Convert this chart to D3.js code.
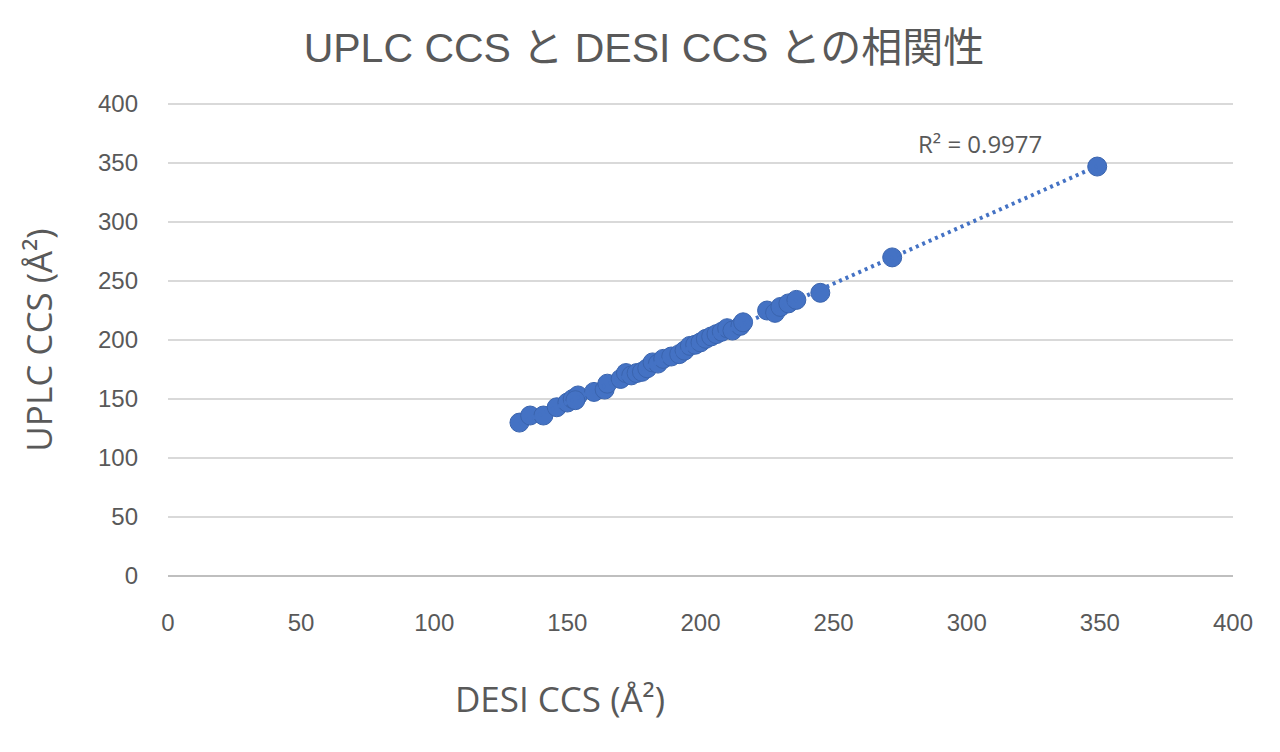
<!DOCTYPE html>
<html><head><meta charset="utf-8">
<script src="https://cdn.jsdelivr.net/npm/d3@7"></script>
<style>body{margin:0;background:#fff}</style></head>
<body><svg id="c" width="1280" height="752"></svg>
<script>
const desiCCS = [132,136,141,146,150,152,154,153,160,164,165,170,172,174,176,178,180,182,184,186,189,192,194,196,198,200,202,204,206,208,210,212,215,216,225,228,230,233,236,245,272,349];
const uplcCCS = [130,136,136,143,147,150,153,149,156,158,163,167,172,170,172,173,176,181,180,184,186,188,191,195,196,198,201,203,205,207,210,208,212,215,225,223,228,231,234,240,270,347];
const xTicks = [0,50,100,150,200,250,300,350,400];
const yTicks = [0,50,100,150,200,250,300,350,400];
const r2Label = "R² = 0.9977";

const svg = d3.select("#c");
const L=168,R=1233,T=104,B=576;
const x = d3.scaleLinear().domain([0,400]).range([L,R]);
const y = d3.scaleLinear().domain([0,400]).range([B,T]);
const gray="#595959", font="'Liberation Sans', Arial, sans-serif";

svg.append("text").attr("x",644).attr("y",62).attr("text-anchor","middle")
  .attr("font-family","'Liberation Sans','Noto Sans CJK JP',sans-serif").attr("font-size",41).attr("fill",gray)
  .text("UPLC CCS と DESI CCS との相関性");

svg.append("g").selectAll("line").data(yTicks.filter(d=>d>0)).join("line")
  .attr("x1",L).attr("x2",R).attr("y1",d=>y(d)).attr("y2",d=>y(d)).attr("stroke","#d9d9d9").attr("stroke-width",2);
svg.append("line").attr("x1",L).attr("x2",R).attr("y1",B).attr("y2",B).attr("stroke","#bfbfbf").attr("stroke-width",2);

svg.append("g").selectAll("text").data(yTicks).join("text")
  .attr("x",138).attr("y",d=>y(d)+8).attr("text-anchor","end").attr("font-family",font).attr("font-size",24).attr("fill",gray).text(d=>d);
svg.append("g").selectAll("text").data(xTicks).join("text")
  .attr("x",d=>x(d)).attr("y",631).attr("text-anchor","middle").attr("font-family",font).attr("font-size",24).attr("fill",gray).text(d=>d);

svg.append("text").attr("x",560).attr("y",712).attr("text-anchor","middle").attr("font-family","'Open Sans',sans-serif")
  .attr("font-size",35).attr("fill",gray).text("DESI CCS (Å²)");
svg.append("text").attr("transform","translate(52,340) rotate(-90)").attr("text-anchor","middle").attr("font-family","'Open Sans',sans-serif")
  .attr("font-size",35).attr("fill",gray).text("UPLC CCS (Å²)");

svg.append("g").selectAll("circle").data(desiCCS).join("circle")
  .attr("cx",d=>x(d)).attr("cy",(d,i)=>y(uplcCCS[i])).attr("r",9.5).attr("fill","#4472c4").attr("stroke","#3a64ae").attr("stroke-width",1);

const mx=d3.mean(desiCCS), my=d3.mean(uplcCCS);
const slope=d3.sum(desiCCS.map((d,i)=>(d-mx)*(uplcCCS[i]-my)))/d3.sum(desiCCS.map(d=>(d-mx)**2));
const icpt=my-slope*mx;
const x0=d3.min(desiCCS), x1=d3.max(desiCCS);
svg.append("line").attr("x1",x(x0)).attr("y1",y(slope*x0+icpt)).attr("x2",x(x1)).attr("y2",y(slope*x1+icpt))
  .attr("stroke","#4472c4").attr("stroke-width",4).attr("stroke-dasharray","3,4");

svg.append("text").attr("x",918).attr("y",153).attr("font-family","'Open Sans',sans-serif").attr("font-size",24).attr("fill",gray).text(r2Label);
</script></body></html>
